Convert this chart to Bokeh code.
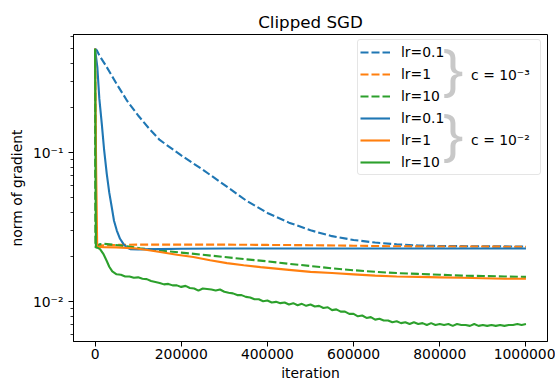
import math
from bokeh.plotting import figure
from bokeh.models import (Range1d, FixedTicker, BasicTickFormatter, Legend,
                          LegendItem, Label)
from bokeh.embed import file_html
from bokeh.resources import INLINE

# ---------------- texts / ticks ----------------
TITLE = "Clipped SGD"
X_LABEL = "iteration"
Y_LABEL = "norm of gradient"
X_TICKS = [0, 200000, 400000, 600000, 800000, 1000000]
Y_TICKS = [0.01, 0.1]
Y_TICK_LABELS = ["10\u207b\u00b2", "10\u207b\u00b9"]
Y_MINOR_TICKS = [0.006, 0.007, 0.008, 0.009,
                 0.02, 0.03, 0.04, 0.05, 0.06, 0.07, 0.08, 0.09,
                 0.2, 0.3, 0.4, 0.5, 0.6]
LR_LABELS = ["lr=0.1", "lr=1", "lr=10"]
GROUP_LABELS = ["c = 10\u207b\u00b3", "c = 10\u207b\u00b2"]
COLORS = ["#1f77b4", "#ff7f0e", "#2ca02c"]

# ---------------- data: c = 1e-3 (dashed) ----------------
c3_lr01_x = [0, 4000, 10000, 25000, 50000, 75000, 100000, 125000, 150000,
             200000, 250000, 300000, 350000, 400000, 450000, 500000, 550000,
             600000, 650000, 700000, 750000, 800000, 900000, 1000000]
c3_lr01_y = [0.50, 0.487, 0.45, 0.385, 0.29, 0.222, 0.178, 0.146, 0.122,
             0.096, 0.077, 0.061, 0.048, 0.0395, 0.034, 0.0302, 0.0276,
             0.0260, 0.0250, 0.0243, 0.0239, 0.0237, 0.0236, 0.0235]

c3_lr1_x = [0, 2000, 5000, 20000, 50000, 100000, 200000, 300000, 400000,
            500000, 600000, 700000, 800000, 900000, 1000000]
c3_lr1_y = [0.50, 0.0236, 0.0238, 0.0240, 0.0241, 0.0242, 0.0242, 0.0242,
            0.0241, 0.0240, 0.0238, 0.0236, 0.0235, 0.0235, 0.0234]

c3_lr10_x = [0, 1000, 3000, 10000, 20000, 40000, 73700, 104700, 150000,
             200000, 250000, 300000, 350000, 400000, 450000, 500000, 550000,
             600000, 650000, 700000, 750000, 800000, 850000, 900000, 950000,
             1000000]
c3_lr10_y = [0.50, 0.0232, 0.0238, 0.0243, 0.0245, 0.0242, 0.0236, 0.0229,
             0.0221, 0.0214, 0.0207, 0.0200, 0.0193, 0.0187, 0.0180, 0.0174,
             0.0168, 0.0163, 0.0159, 0.0156, 0.0154, 0.0152, 0.0150, 0.0149,
             0.0148, 0.0147]

# ---------------- data: c = 1e-2 (solid) ----------------
c2_lr01_x = [0, 5300, 10000, 15600, 21000, 27200, 33000, 38800, 44000, 50500,
             58000, 65800, 73000, 81400, 100000, 150000, 200000, 300000,
             400000, 500000, 600000, 700000, 800000, 900000, 1000000]
c2_lr01_y = [0.50, 0.376, 0.23, 0.157, 0.105, 0.0723, 0.054, 0.0431, 0.035,
             0.0301, 0.0265, 0.0245, 0.0232, 0.0226, 0.0225, 0.0226, 0.0227,
             0.0228, 0.0228, 0.0228, 0.0228, 0.0228, 0.0228, 0.0228, 0.0228]

c2_lr1_x = [0, 2500, 5000, 20000, 50000, 97000, 125000, 151000, 190000,
            228000, 267000, 306000, 345000, 384000, 450000, 500000, 550000,
            600000, 650000, 700000, 750000, 800000, 850000, 900000, 950000,
            1000000]
c2_lr1_y = [0.50, 0.08, 0.0234, 0.0233, 0.0232, 0.0228, 0.0222, 0.0216,
            0.0207, 0.0200, 0.0190, 0.0182, 0.0176, 0.0171, 0.0164, 0.0159,
            0.0156, 0.0153, 0.0150, 0.0148, 0.0147, 0.0146, 0.0145, 0.0144,
            0.0143, 0.0143]

c2_lr10_x = [0, 2000, 5000, 11600, 20000, 27200, 33000,
             40000, 50000, 60000, 70000, 80000, 90000, 100000, 110000, 120000,
             130000, 140000, 150000, 160000, 170000, 180000, 190000, 200000,
             210000, 220000, 230000, 240000, 250000, 260000, 270000, 280000,
             290000, 300000, 310000, 320000, 330000, 340000, 350000, 360000,
             370000, 380000, 390000, 400000, 410000, 420000, 430000, 440000,
             450000, 460000, 470000, 480000, 490000, 500000, 510000, 520000,
             530000, 540000, 550000, 560000, 570000, 580000, 590000, 600000,
             610000, 620000, 630000, 640000, 650000, 660000, 670000, 680000,
             690000, 700000, 710000, 720000, 730000, 740000, 750000, 760000,
             770000, 780000, 790000, 800000, 810000, 820000, 830000, 840000,
             850000, 860000, 870000, 880000, 890000, 900000, 910000, 920000,
             930000, 940000, 950000, 960000, 970000, 980000, 990000, 1000000]
c2_lr10_y = [0.50, 0.0232, 0.0231, 0.0226, 0.0208, 0.0188, 0.0172,
             0.0160, 0.0153, 0.0152, 0.0148, 0.0148, 0.0145, 0.0146, 0.0143,
             0.0142, 0.0138, 0.0136, 0.0134, 0.0131, 0.0132, 0.0129, 0.0129,
             0.0126, 0.0128, 0.0124, 0.0123, 0.0119, 0.0123, 0.0122, 0.0121,
             0.0119, 0.0121, 0.0117, 0.0115, 0.0114, 0.0111, 0.0111, 0.0108,
             0.0107, 0.0104, 0.0104, 0.0101, 0.0102, 0.0099, 0.0100, 0.0098,
             0.0099, 0.0096, 0.0098, 0.0095, 0.0097, 0.0094, 0.0096, 0.0093,
             0.0094, 0.0091, 0.0092, 0.0088, 0.0089, 0.0086, 0.0086, 0.0083,
             0.0083, 0.0080, 0.0081, 0.0078, 0.0079, 0.0076, 0.0077, 0.0075,
             0.0075, 0.0073, 0.0074, 0.0072, 0.0073, 0.0071, 0.0073, 0.0071,
             0.0072, 0.0070, 0.0072, 0.0070, 0.0071, 0.0070, 0.0071, 0.0069,
             0.0071, 0.0070, 0.0070, 0.0069, 0.0071, 0.0069, 0.0070, 0.0069,
             0.0070, 0.0069, 0.0070, 0.0069, 0.0070, 0.0070, 0.0071, 0.0070,
             0.0071]

SERIES = [
    (c3_lr01_x, c3_lr01_y, 0, "dashed"),
    (c3_lr1_x, c3_lr1_y, 1, "dashed"),
    (c3_lr10_x, c3_lr10_y, 2, "dashed"),
    (c2_lr01_x, c2_lr01_y, 0, "solid"),
    (c2_lr1_x, c2_lr1_y, 1, "solid"),
    (c2_lr10_x, c2_lr10_y, 2, "solid"),
]

# ---------------- figure ----------------
X0, X1 = -50000, 1050000
Y0, Y1 = 0.00542, 0.622
FONT = "DejaVu Sans"

p = figure(width=555, height=383, output_backend="svg", toolbar_location=None,
           x_range=Range1d(X0, X1), y_range=Range1d(Y0, Y1),
           y_axis_type="log", title=TITLE,
           min_border_left=73, min_border_right=8,
           min_border_top=34, min_border_bottom=42)
p.background_fill_color = "white"
p.border_fill_color = "white"
p.outline_line_color = "black"
p.outline_line_width = 1
p.outline_line_alpha = 1
p.grid.visible = False

p.title.text_font = FONT
p.title.text_font_size = "16.7px"
p.title.text_font_style = "normal"
p.title.align = "center"
p.title.text_color = "black"
p.title.offset = 0
p.title.standoff = 6

for ax in (p.xaxis[0], p.yaxis[0]):
    ax.axis_line_color = "black"
    ax.axis_line_width = 1
    ax.major_tick_line_color = "black"
    ax.major_tick_line_width = 1
    ax.minor_tick_line_color = "black"
    ax.minor_tick_line_width = 0.8
    ax.major_tick_in = 0
    ax.major_tick_out = 5
    ax.minor_tick_in = 0
    ax.minor_tick_out = 3
    ax.major_label_text_font = FONT
    ax.major_label_text_font_size = "13.9px"
    ax.major_label_text_color = "black"
    ax.axis_label_text_font = FONT
    ax.axis_label_text_font_size = "13.9px"
    ax.axis_label_text_font_style = "normal"
    ax.axis_label_text_color = "black"

p.xaxis.major_label_standoff = 2
p.xaxis.axis_label_standoff = 3
p.yaxis.major_label_standoff = 5
p.yaxis.axis_label_standoff = 5

p.xaxis.axis_label = X_LABEL
p.yaxis.axis_label = Y_LABEL
p.xaxis.ticker = FixedTicker(ticks=X_TICKS, minor_ticks=[])
p.xaxis.formatter = BasicTickFormatter(use_scientific=False)
p.xaxis.minor_tick_line_color = None
p.yaxis.ticker = FixedTicker(ticks=Y_TICKS, minor_ticks=Y_MINOR_TICKS)
p.yaxis.major_label_overrides = dict(zip(Y_TICKS, Y_TICK_LABELS))

renderers = []
for xs, ys, ci, style in SERIES:
    kw = dict(line_color=COLORS[ci], line_width=2.1)
    if style == "dashed":
        kw["line_dash"] = "8 3"
    renderers.append(p.line(xs, ys, **kw))

items = [LegendItem(label=LR_LABELS[i % 3], renderers=[r])
         for i, r in enumerate(renderers)]

# frame geometry (pixels) used to place legend decorations
FL, FR, FT, FB = 73, 547.5, 34, 341


def dx(px):
    return X0 + (px - FL) / (FR - FL) * (X1 - X0)


def dy(py):
    l0, l1 = math.log10(Y0), math.log10(Y1)
    return 10 ** (l0 + (FB - py) / (FB - FT) * (l1 - l0))


legend = Legend(items=items, location=(357 - FL, FB - 175),
                label_text_font=FONT, label_text_font_size="13.9px",
                label_text_color="black",
                glyph_width=30, glyph_height=20, label_height=20,
                label_width=137, label_standoff=11, spacing=2, padding=2,
                margin=0, border_line_color="#cccccc", border_line_width=1,
                background_fill_color="white", background_fill_alpha=0.0)
if "border_radius" in Legend.properties():
    legend.border_radius = 3
p.add_layout(legend)

for gi, cy in enumerate([74.0, 139.0]):
    p.add_layout(Label(x=dx(453), y=dy(cy - 7), text="}", level="overlay",
                       text_font="Noto Sans", text_font_size="56px",
                       text_color="#c8c8c8", text_align="center",
                       text_baseline="middle"))
    p.add_layout(Label(x=dx(471), y=dy(cy), text=GROUP_LABELS[gi],
                       level="overlay",
                       text_font=FONT, text_font_size="13.9px",
                       text_color="black", text_align="left",
                       text_baseline="middle"))

open("out.html", "w").write(file_html(p, INLINE))
